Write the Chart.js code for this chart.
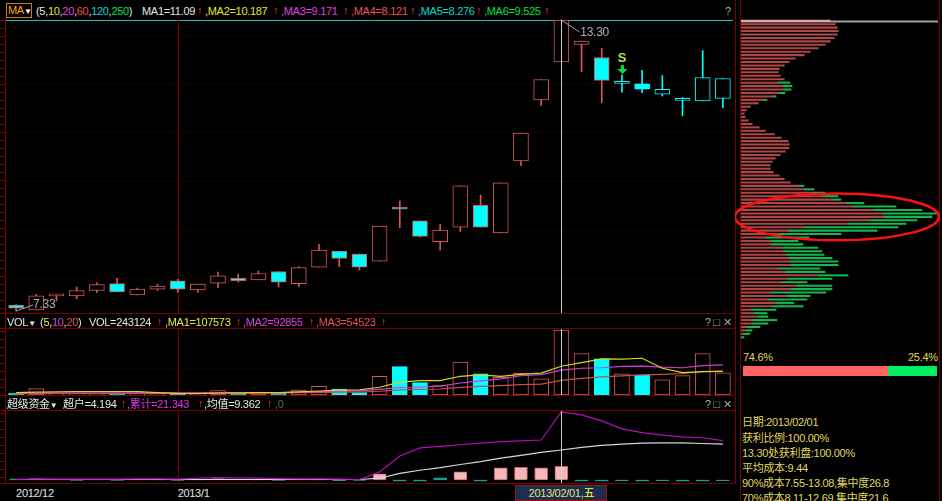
<!DOCTYPE html>
<html>
<head>
<meta charset="utf-8">
<script src="https://cdn.jsdelivr.net/npm/chart.js@4.4.1/dist/chart.umd.min.js"></script>
<style>
html, body { margin: 0; padding: 0; background: #000; }
body { width: 942px; height: 501px; position: relative; overflow: hidden;
  font-family: "Liberation Sans", "Noto Sans CJK SC", sans-serif; font-size: 11px; letter-spacing: -0.3px; color: #e6e6e6; }
canvas { position: absolute; }
.t { position: absolute; white-space: nowrap; line-height: 14px; }
.ln { position: absolute; background: #7a0000; }
.ruler { position: absolute; left: 0; width: 5px;
  background: repeating-linear-gradient(to bottom, #8a0000 0 1px, transparent 1px 8px); }
</style>
</head>
<body>

<!-- 框線 -->
<div class="ruler" style="top:20px;height:293px"></div>
<div class="ruler" style="top:331px;height:64px"></div>
<div class="ruler" style="top:413px;height:70px"></div>
<div class="ln" style="left:5px;top:18px;width:1px;height:466px"></div>
<div class="ln" style="left:735px;top:0;width:1px;height:484px"></div>
<div class="ln" style="left:740px;top:0;width:1px;height:501px"></div>
<div class="ln" style="left:939px;top:0;width:1px;height:501px"></div>
<div class="ln" style="left:0;top:313px;width:736px;height:1px"></div>
<div class="ln" style="left:0;top:328px;width:736px;height:1px"></div>
<div class="ln" style="left:0;top:395px;width:736px;height:1px"></div>
<div class="ln" style="left:0;top:410px;width:736px;height:1px"></div>
<div class="ln" style="left:0;top:483px;width:736px;height:1px"></div>

<canvas id="mainChart" width="727" height="295" style="left:6px;top:18px"></canvas>
<canvas id="volChart" width="727" height="66" style="left:6px;top:329px"></canvas>
<canvas id="fundChart" width="727" height="72" style="left:6px;top:411px"></canvas>
<canvas id="chipChart" width="205" height="320" style="left:735px;top:19px"></canvas>

<!-- 主圖標題 -->
<div class="t" style="left:6px;top:3px;width:23px;height:13px;border:1px solid #c88400;line-height:13px;padding-left:1px"><span style="color:#ffa400">MA</span><span style="color:#fff;font-size:8px">▼</span></div>
<div class="t" style="left:36px;top:4px">(5,<span style="color:#e8e830">10</span>,<span style="color:#e040e0">20</span>,<span style="color:#f05050">60</span>,<span style="color:#00d8d8">120</span>,<span style="color:#00e040">250</span>)</div>
<div class="t" style="left:142px;top:4px">MA1=11.09</div>
<div class="t" style="left:205px;top:4px;color:#e8e830">,MA2=10.187</div>
<div class="t" style="left:281px;top:4px;color:#e040e0">,MA3=9.171</div>
<div class="t" style="left:351px;top:4px;color:#f05050">,MA4=8.121</div>
<div class="t" style="left:418px;top:4px;color:#00d8d8">,MA5=8.276</div>
<div class="t" style="left:484px;top:4px;color:#00e040">,MA6=9.525</div>
<div class="t" style="left:197px;top:3px;color:#ff3030">↑</div>
<div class="t" style="left:273px;top:3px;color:#ff3030">↑</div>
<div class="t" style="left:343px;top:3px;color:#ff3030">↑</div>
<div class="t" style="left:410px;top:3px;color:#ff3030">↑</div>
<div class="t" style="left:476px;top:3px;color:#ff3030">↑</div>
<div class="t" style="left:544px;top:3px;color:#ff3030">↑</div>
<div class="t" style="left:725px;top:4px;color:#aaa">?</div>

<!-- 成交量標題 -->
<div class="t" style="left:7px;top:315px">VOL<span style="font-size:8px">▼</span></div>
<div class="t" style="left:40px;top:315px">(<span style="color:#e8e830">5</span>,<span style="color:#e040e0">10</span>,<span style="color:#f05050">20</span>)</div>
<div class="t" style="left:89px;top:315px">VOL=243124</div>
<div class="t" style="left:165px;top:315px;color:#e8e830">,MA1=107573</div>
<div class="t" style="left:243px;top:315px;color:#e040e0">,MA2=92855</div>
<div class="t" style="left:316px;top:315px;color:#f05050">,MA3=54523</div>
<div class="t" style="left:157px;top:314px;color:#ff3030">↑</div>
<div class="t" style="left:236px;top:314px;color:#ff3030">↑</div>
<div class="t" style="left:309px;top:314px;color:#ff3030">↑</div>
<div class="t" style="left:381px;top:314px;color:#ff3030">↑</div>
<div class="t" style="left:705px;top:315px;color:#aaa">? □ ✕</div>

<!-- 資金標題 -->
<div class="t" style="left:7px;top:397px">超级资金<span style="font-size:8px">▼</span></div>
<div class="t" style="left:63px;top:397px">超户=4.194</div>
<div class="t" style="left:127px;top:397px;color:#e030e0">,累计=21.343</div>
<div class="t" style="left:204px;top:397px">,均值=9.362</div>
<div class="t" style="left:275px;top:397px;color:#666">,0</div>
<div class="t" style="left:121px;top:396px;color:#ff3030">↑</div>
<div class="t" style="left:198px;top:396px;color:#ff3030">↑</div>
<div class="t" style="left:267px;top:396px;color:#ff3030">↑</div>
<div class="t" style="left:705px;top:397px;color:#aaa">? □ ✕</div>

<!-- 時間軸 -->
<div id="xLabels"></div>
<div id="dateBox" class="t" style="top:485px;height:14px;width:90px;background:#1e2d4e;border:1px solid #a01010;color:#e8e070;text-align:center">2013/02/01,<span style="color:#ffff30">五</span></div>

<!-- 籌碼資訊 -->
<div class="t" style="left:743px;top:350px;color:#e0d860">74.6%</div>
<div class="t" style="left:908px;top:350px;color:#e0d860">25.4%</div>
<div style="position:absolute;left:743px;top:366px;width:145px;height:10px;background:#ff6464"></div>
<div style="position:absolute;left:888px;top:366px;width:49px;height:10px;background:#00ee60"></div>
<div class="t" style="left:742px;top:415px;color:#e0d860">日期:2013/02/01</div>
<div class="t" style="left:742px;top:431px;color:#e0d860">获利比例:100.00%</div>
<div class="t" style="left:742px;top:446px;color:#e0d860">13.30处获利盘:100.00%</div>
<div class="t" style="left:742px;top:461px;color:#e0d860">平均成本:9.44</div>
<div class="t" style="left:742px;top:476px;color:#e0d860">90%成本7.55-13.08,集中度26.8</div>
<div class="t" style="left:742px;top:491px;color:#e0d860">70%成本8.11-12.69,集中度21.6</div>

<script>
// K線資料 (開、高、低、收)
const opens  = [7.45,7.35,7.64,7.64,7.75,7.89,7.66,7.78,7.95,7.76,7.90,8.00,7.97,8.14,7.89,8.23,8.56,8.50,8.35,9.43,9.18,8.75,9.05,9.50,8.93,10.41,11.66,12.44,12.80,12.53,12.00,11.99,11.78,11.65,11.64,11.69];
const highs  = [7.46,7.67,7.67,7.82,7.91,8.00,7.80,7.88,7.98,7.88,8.13,8.09,8.15,8.14,8.24,8.70,8.56,8.50,9.07,9.59,9.18,9.11,9.90,9.71,9.96,10.98,12.08,13.30,12.87,12.72,12.17,12.27,12.16,11.71,12.67,12.10];
const lows   = [7.33,7.35,7.54,7.58,7.71,7.72,7.66,7.75,7.71,7.71,7.81,7.92,7.97,7.82,7.83,8.23,8.24,8.17,8.35,9.04,8.85,8.58,8.96,9.05,8.93,10.31,11.55,12.44,12.24,11.60,11.82,11.81,11.74,11.34,11.64,11.50];
const closes = [7.39,7.64,7.65,7.75,7.87,7.72,7.78,7.84,7.78,7.88,8.05,7.95,8.10,7.92,8.22,8.58,8.41,8.23,9.07,9.42,8.86,8.99,9.90,9.05,9.96,10.98,12.08,13.30,12.87,12.06,12.01,11.88,11.88,11.66,12.12,12.10];

// 成交量與均量 (5,10,20)
const volumes = [6400,23700,4900,4500,5600,6400,4500,5600,6400,4500,16900,6400,11300,6400,18800,32700,22500,9400,70300,106400,46200,35000,122900,78900,66500,81500,60100,243124,155200,135300,78900,75200,56400,72500,155200,82700];
const volMa5  = [9000,11000,12000,12500,12500,12500,12500,9000,6000,5500,7500,8000,9000,9000,12000,15000,18000,19000,29000,48000,54000,54000,70000,75000,70000,77000,82000,107573,121000,135000,134500,137500,100200,83700,87600,88400];
const volMa10 = [7000,7500,7500,7500,7500,7500,7500,7500,8000,8000,8300,8000,8700,8800,10100,12900,14700,15100,21000,28000,30000,33000,45000,53000,60000,72000,76000,92855,100000,102000,107000,108000,104000,102000,110000,112800];
const volMa20 = [5500,5500,5600,5600,5700,5800,5900,6000,6200,6500,7000,7200,7500,7600,8500,10000,11000,11200,14000,19000,21000,22500,28500,32000,35000,39000,40500,54523,62000,68000,71500,75000,77500,80500,87500,89000];
const volGrid = [100000];

// 超级资金：超户、累计、均值
const fundBar = [0.3,0.4,0.2,-0.2,0.1,-0.2,0.2,0.3,-0.2,0.1,0.4,0.2,0.3,-0.2,0.2,0.3,-0.3,-0.2,1.9,-0.4,-0.4,0.6,2.5,-0.4,3.8,3.9,3.8,4.194,-0.4,-0.4,-0.3,-0.4,-0.3,-0.4,-0.4,-0.3];
const fundSum = [0.1,0.3,0.2,0.2,0.2,0.2,0.3,0.3,0.2,0.5,0.7,0.6,0.5,0.4,0.3,0.3,0.2,0.1,2.5,7.5,10.0,10.5,11.0,11.5,12.0,12.2,12.5,21.343,20.4,18.5,16.0,14.8,14.0,13.5,13.2,12.3];
const fundAvg = [0.1,0.1,0.1,0.1,0.1,0.1,0.1,0.1,0.1,0.1,0.1,0.1,0.1,0.1,0.1,0.1,0.1,0.1,0.5,2.0,3.0,3.8,4.8,5.7,6.8,7.7,8.6,9.362,10.2,10.8,11.2,11.5,11.6,11.6,11.4,11.2];

// 籌碼分布 (由上而下，獲利盤 / 其他)
const chipRed   = [89,94,96,97,96,93,89,84,77,69,63,54,48,43,38,37,39,43,37,42,43,38,32,22,17,9,5,3,4,7,11,18,24,33,40,47,48,48,44,39,34,31,29,29,32,38,43,49,57,63,72,82,92,105,112,132,142,143,128,107,63,48,38,25,30,30,42,42,45,47,50,50,38,45,77,47,40,55,50,30,45,27,35,32,10,13,17,10,12,5,5,2,0];
const chipGreen = [0,0,0,0,0,0,0,0,0,0,0,0,0,0,0,0,0,0,12,9,7,6,3,4,0,0,0,0,0,0,0,0,0,0,0,0,0,0,0,0,0,0,0,0,0,0,0,0,6,10,12,15,8,18,43,49,54,48,48,58,94,88,62,43,27,32,35,39,38,44,47,47,41,39,30,44,26,36,41,55,24,39,18,30,25,13,10,26,15,14,6,7,3];

const priceGrid = [8, 9, 10, 11, 12, 13];
const monthTicks = [{ index: 0, text: '2012/12' }, { index: 8, text: '2013/1' }];
const crossIndex = 27;   // 2013/02/01
const signalIndex = 30;  // S 訊號
const chipEllipse = { row: 57, rowHalf: 6.8, value: 96, valueHalf: 102 };

const days = opens.map((_, i) => i + 1);
const RED = '#d85858';
const CYAN = '#00ffff';

function isDown(i) { return closes[i] < opens[i]; }
function lineColor(i) { return i >= signalIndex ? CYAN : RED; }

// 水平虛線格線
function dottedGrid(chart, values) {
    const c = chart.ctx;
    const { left, right } = chart.chartArea;
    c.save();
    c.strokeStyle = '#5a0000';
    c.lineWidth = 1;
    c.setLineDash([1, 3]);
    values.forEach(v => {
        const y = Math.round(chart.scales.y.getPixelForValue(v)) + 0.5;
        c.beginPath();
        c.moveTo(left, y);
        c.lineTo(right, y);
        c.stroke();
    });
    c.restore();
}

// 十字線
const crossLine = {
    id: 'crossLine',
    afterDatasetsDraw(chart) {
        const c = chart.ctx;
        const x = Math.round(chart.scales.x.getPixelForValue(crossIndex)) + 0.5;
        const top = chart.config.options.crossTop !== undefined ? chart.scales.y.getPixelForValue(chart.config.options.crossTop) : chart.chartArea.top;
        c.save();
        c.strokeStyle = '#d0d0d0';
        c.lineWidth = 1;
        c.beginPath();
        c.moveTo(x, top);
        c.lineTo(x, chart.chartArea.bottom);
        c.stroke();
        c.restore();
    }
};

// 月份分隔線
const monthLine = {
    id: 'monthLine',
    beforeDatasetsDraw(chart) {
        const c = chart.ctx;
        c.save();
        c.strokeStyle = '#7a0000';
        c.lineWidth = 1;
        monthTicks.slice(1).forEach(m => {
            const x = Math.round(chart.scales.x.getPixelForValue(m.index)) + 0.5;
            c.beginPath();
            c.moveTo(x, chart.chartArea.top);
            c.lineTo(x, chart.chartArea.bottom);
            c.stroke();
        });
        c.restore();
    }
};

// 主圖格線、最高最低標註、S 訊號
const mainDecor = {
    id: 'mainDecor',
    beforeDatasetsDraw(chart) {
        dottedGrid(chart, priceGrid);
        const c = chart.ctx;
        const hi = Math.max(...highs);
        const yTop = Math.round(chart.scales.y.getPixelForValue(hi)) + 0.5;
        c.save();
        c.strokeStyle = '#30b8c0';
        c.lineWidth = 1;
        c.beginPath();
        c.moveTo(0, yTop);
        c.lineTo(chart.width, yTop);
        c.stroke();
        c.restore();
    },
    afterDatasetsDraw(chart) {
        const c = chart.ctx;
        const xs = chart.scales.x, ys = chart.scales.y;
        const hi = Math.max(...highs), lo = Math.min(...lows);
        const hiX = xs.getPixelForValue(highs.indexOf(hi)), hiY = ys.getPixelForValue(hi);
        const loX = xs.getPixelForValue(lows.indexOf(lo)), loY = ys.getPixelForValue(lo);
        c.save();
        c.strokeStyle = '#a8a8a8';
        c.fillStyle = '#b0b0b0';
        c.font = '12px "Liberation Sans", sans-serif';
        c.lineWidth = 1;
        c.beginPath();
        c.moveTo(hiX, hiY);
        c.lineTo(hiX + 18, hiY + 12);
        c.moveTo(loX, loY);
        c.lineTo(loX + 17, loY - 6);
        c.stroke();
        c.textBaseline = 'middle';
        c.fillText(hi.toFixed(2), hiX + 19, hiY + 13);
        c.fillText(lo.toFixed(2), loX + 17, loY - 6);

        // S 訊號
        const sx = xs.getPixelForValue(signalIndex);
        const sy = ys.getPixelForValue(highs[signalIndex]);
        c.fillStyle = '#a8f040';
        c.font = 'bold 13px "Liberation Sans", sans-serif';
        c.textAlign = 'center';
        c.fillText('S', sx, sy - 17);
        c.fillStyle = '#10e030';
        c.fillRect(sx - 1, sy - 10, 3, 4);
        c.beginPath();
        c.moveTo(sx - 4.5, sy - 6);
        c.lineTo(sx + 5.5, sy - 6);
        c.lineTo(sx + 0.5, sy - 1);
        c.closePath();
        c.fill();
        c.restore();
    }
};

const volDecor = {
    id: 'volDecor',
    beforeDatasetsDraw(chart) { dottedGrid(chart, volGrid); }
};

const baseOptions = {
    responsive: false,
    animation: false,
    events: [],
    layout: { padding: 0 },
    plugins: { legend: { display: false }, tooltip: { enabled: false } }
};

// K線圖
const mainChart = new Chart(document.getElementById('mainChart'), {
    type: 'bar',
    data: {
        labels: days,
        datasets: [
            {
                label: 'wick',
                data: lows.map((l, i) => [l, highs[i]]),
                backgroundColor: ctx => lineColor(ctx.dataIndex),
                barThickness: 1,
                grouped: false,
                order: 2
            },
            {
                label: 'body',
                data: opens.map((o, i) => [o, closes[i]]),
                backgroundColor: ctx => isDown(ctx.dataIndex) ? CYAN : '#000',
                borderColor: ctx => lineColor(ctx.dataIndex),
                borderWidth: 1,
                borderSkipped: false,
                barThickness: 15,
                minBarLength: 2,
                grouped: false,
                order: 1
            }
        ]
    },
    options: {
        ...baseOptions,
        crossTop: Math.max(...highs),
        scales: {
            x: { display: false, offset: true },
            y: { display: false, min: 7.289, max: 13.341 }
        }
    },
    plugins: [mainDecor, monthLine, crossLine]
});

// 成交量
const volChart = new Chart(document.getElementById('volChart'), {
    type: 'bar',
    data: {
        labels: days,
        datasets: [
            {
                label: 'VOL',
                data: volumes,
                backgroundColor: ctx => isDown(ctx.dataIndex) ? CYAN : '#000',
                borderColor: ctx => isDown(ctx.dataIndex) ? CYAN : RED,
                borderWidth: 1,
                borderSkipped: false,
                barThickness: 15,
                order: 2
            },
            { type: 'line', label: 'MA1', data: volMa5, borderColor: '#d8d820', borderWidth: 1.2, pointRadius: 0, order: 1 },
            { type: 'line', label: 'MA2', data: volMa10, borderColor: '#d040d0', borderWidth: 1.2, pointRadius: 0, order: 1 },
            { type: 'line', label: 'MA3', data: volMa20, borderColor: '#c85050', borderWidth: 1.2, pointRadius: 0, order: 1 }
        ]
    },
    options: {
        ...baseOptions,
        scales: {
            x: { display: false, offset: true },
            y: { display: false, min: 0, max: 246900 }
        }
    },
    plugins: [volDecor, monthLine, crossLine]
});

// 超级资金
const fundChart = new Chart(document.getElementById('fundChart'), {
    type: 'bar',
    data: {
        labels: days,
        datasets: [
            {
                label: '超户',
                data: fundBar,
                backgroundColor: ctx => fundBar[ctx.dataIndex] >= 1 ? '#f4b8b8' : '#1a9a9a',
                borderColor: ctx => fundBar[ctx.dataIndex] >= 1 ? '#c86060' : '#1a9a9a',
                borderWidth: 1,
                barThickness: 13,
                order: 2
            },
            { type: 'line', label: '累计', data: fundSum, borderColor: '#b010b8', borderWidth: 1.2, pointRadius: 0, order: 1 },
            { type: 'line', label: '均值', data: fundAvg, borderColor: '#d8d8d8', borderWidth: 1.2, pointRadius: 0, order: 1 }
        ]
    },
    options: {
        ...baseOptions,
        scales: {
            x: { display: false, offset: true },
            y: { display: false, min: -1, max: 21.6 }
        }
    },
    plugins: [monthLine, crossLine]
});

// 籌碼分布
const chipRows = chipRed.map((_, i) => i);
const chipDecor = {
    id: 'chipDecor',
    beforeDatasetsDraw(chart) {
        const c = chart.ctx;
        const y = Math.round(chart.scales.y.getPixelForValue(0)) + 0.5;
        c.save();
        c.strokeStyle = '#a0a0a0';
        c.lineWidth = 2;
        c.beginPath();
        c.moveTo(chart.chartArea.left, y);
        c.lineTo(chart.chartArea.right, y);
        c.stroke();
        c.restore();
    },
    afterDatasetsDraw(chart) {
        const c = chart.ctx;
        const xs = chart.scales.x, ys = chart.scales.y;
        const cx = xs.getPixelForValue(chipEllipse.value);
        const cy = ys.getPixelForValue(chipEllipse.row);
        const rx = xs.getPixelForValue(chipEllipse.value + chipEllipse.valueHalf) - cx;
        const ry = ys.getPixelForValue(chipEllipse.row + chipEllipse.rowHalf) - cy;
        c.save();
        c.strokeStyle = '#ff1010';
        c.lineWidth = 2.5;
        c.beginPath();
        c.ellipse(cx, cy, rx, ry, 0, 0, Math.PI * 2);
        c.stroke();
        c.restore();
    }
};

const chipChart = new Chart(document.getElementById('chipChart'), {
    type: 'bar',
    data: {
        labels: chipRows,
        datasets: [
            {
                label: 'profit',
                data: chipRed,
                backgroundColor: ctx => ctx.dataIndex === 0 ? '#e8a8a8' : '#b04646',
                barThickness: 1.4,
                stack: 's'
            },
            {
                label: 'other',
                data: chipGreen,
                backgroundColor: '#14b850',
                barThickness: 1.4,
                stack: 's'
            }
        ]
    },
    options: {
        ...baseOptions,
        indexAxis: 'y',
        layout: { padding: { left: 6, right: 2 } },
        scales: {
            x: { display: false, stacked: true, min: 0, max: 197 },
            y: { display: false, stacked: true, offset: true }
        }
    },
    plugins: [chipDecor]
});

// 時間軸標籤
const xScale = mainChart.scales.x;
const canvasLeft = 6;
const xLabels = document.getElementById('xLabels');
monthTicks.forEach(m => {
    const d = document.createElement('div');
    d.className = 't';
    d.style.left = (canvasLeft + xScale.getPixelForValue(m.index)) + 'px';
    d.style.top = '486px';
    d.textContent = m.text;
    xLabels.appendChild(d);
});
const dateBox = document.getElementById('dateBox');
dateBox.style.left = (canvasLeft + xScale.getPixelForValue(crossIndex) - 46) + 'px';
</script>
</body>
</html>
